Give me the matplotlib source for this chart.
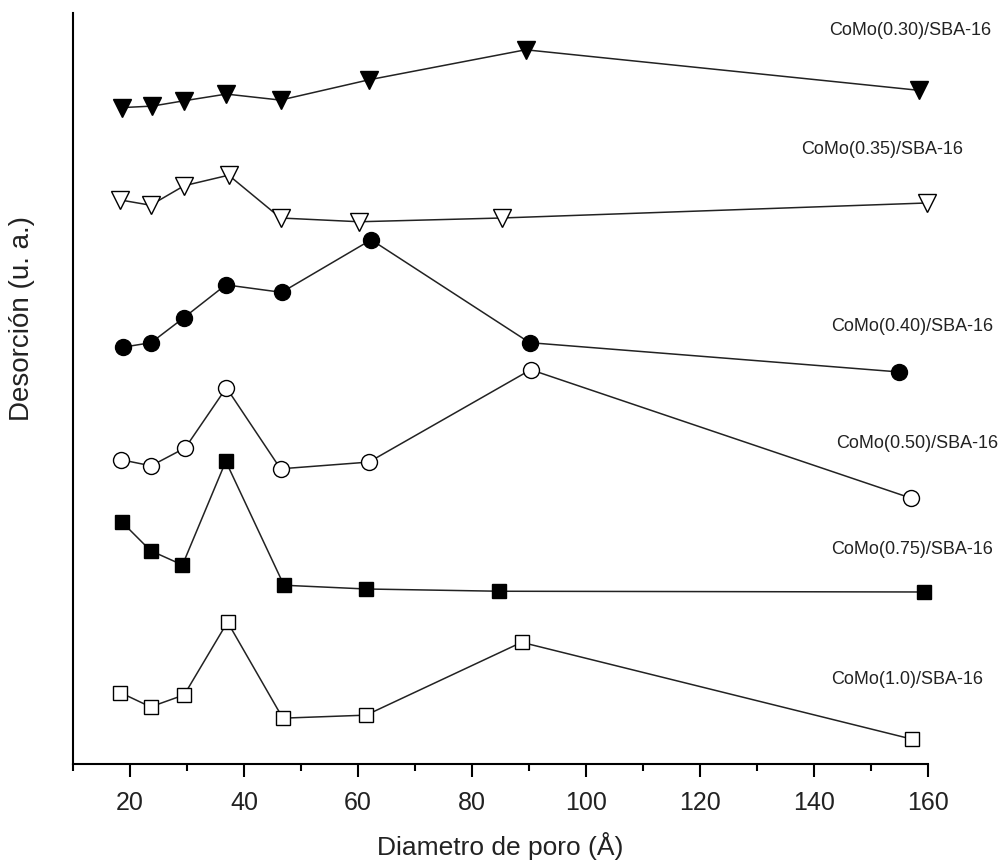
import matplotlib
matplotlib.use("Agg")
import matplotlib.pyplot as plt
from matplotlib.ticker import MultipleLocator

plt.rcParams['font.family'] = ['Liberation Sans', 'DejaVu Sans']

# Data (pore diameter in Å, desorption in arbitrary units, offset stacked)
x_030 = [18.6, 23.9, 29.4, 36.9, 46.4, 61.9, 89.4, 158.4]
y_030 = [87.4, 87.6, 88.3, 89.2, 88.4, 91.1, 95.1, 89.7]

x_035 = [18.3, 23.6, 29.5, 37.3, 46.4, 60.2, 85.2, 159.8]
y_035 = [75.1, 74.4, 77.0, 78.4, 72.7, 72.2, 72.7, 74.7]

x_040 = [18.8, 23.7, 29.4, 36.8, 46.6, 62.3, 90.1, 154.9]
y_040 = [55.5, 56.1, 59.4, 63.8, 62.8, 69.8, 56.1, 52.2]

x_050 = [18.5, 23.7, 29.7, 36.9, 46.4, 61.9, 90.3, 157.0]
y_050 = [40.5, 39.7, 42.1, 50.1, 39.3, 40.2, 52.5, 35.4]

x_075 = [18.6, 23.6, 29.2, 36.8, 47.0, 61.4, 84.8, 159.3]
y_075 = [32.2, 28.4, 26.5, 40.3, 23.8, 23.3, 23.0, 22.9]

x_100 = [18.3, 23.6, 29.5, 37.1, 46.8, 61.4, 88.7, 157.2]
y_100 = [9.5, 7.6, 9.2, 18.9, 6.1, 6.5, 16.2, 3.3]

labels = ["CoMo(0.30)/SBA-16", "CoMo(0.35)/SBA-16", "CoMo(0.40)/SBA-16",
          "CoMo(0.50)/SBA-16", "CoMo(0.75)/SBA-16", "CoMo(1.0)/SBA-16"]
label_x = [171.1, 166.2, 171.4, 172.3, 171.4, 169.7]
label_y = [97.7, 81.8, 58.2, 42.7, 28.6, 11.3]

fig = plt.figure(figsize=(10.02, 8.65), dpi=100)
ax = fig.add_axes([0.0729, 0.1168, 0.8533, 0.8682])

series = [
    (x_030, y_030, 'v', 'black', 13),
    (x_035, y_035, 'v', 'white', 13),
    (x_040, y_040, 'o', 'black', 11.5),
    (x_050, y_050, 'o', 'white', 11.5),
    (x_075, y_075, 's', 'black', 9.5),
    (x_100, y_100, 's', 'white', 9.5),
]
for xs, ys, m, fc, ms in series:
    ax.plot(xs, ys, '-', color='#222222', lw=1.1, marker=m, markersize=ms,
            markerfacecolor=fc, markeredgecolor='black', markeredgewidth=1.0,
            clip_on=False)

for lab, lx, ly in zip(labels, label_x, label_y):
    ax.text(lx, ly, lab, ha='right', va='center', fontsize=13, color='#222222',
            clip_on=False)

ax.set_xlim(10, 160)
ax.set_ylim(0, 100)
ax.spines['top'].set_visible(False)
ax.spines['right'].set_visible(False)
ax.spines['left'].set_linewidth(1.5)
ax.spines['bottom'].set_linewidth(1.5)
ax.set_yticks([])
ax.xaxis.set_major_locator(MultipleLocator(20))
ax.xaxis.set_minor_locator(MultipleLocator(10))
ax.tick_params(axis='x', which='major', direction='out', length=9.5, width=1.5,
               labelsize=18, pad=10, labelcolor='#222222')
ax.tick_params(axis='x', which='minor', direction='out', length=5, width=1.5)
ax.set_xlabel("Diametro de poro (Å)", fontsize=19, labelpad=12, color='#222222')
fig.text(0.022, 0.632, "Desorción (u. a.)", rotation=90, ha='center', va='center',
         fontsize=20, color='#222222')

fig.savefig("out.png", dpi=100)
